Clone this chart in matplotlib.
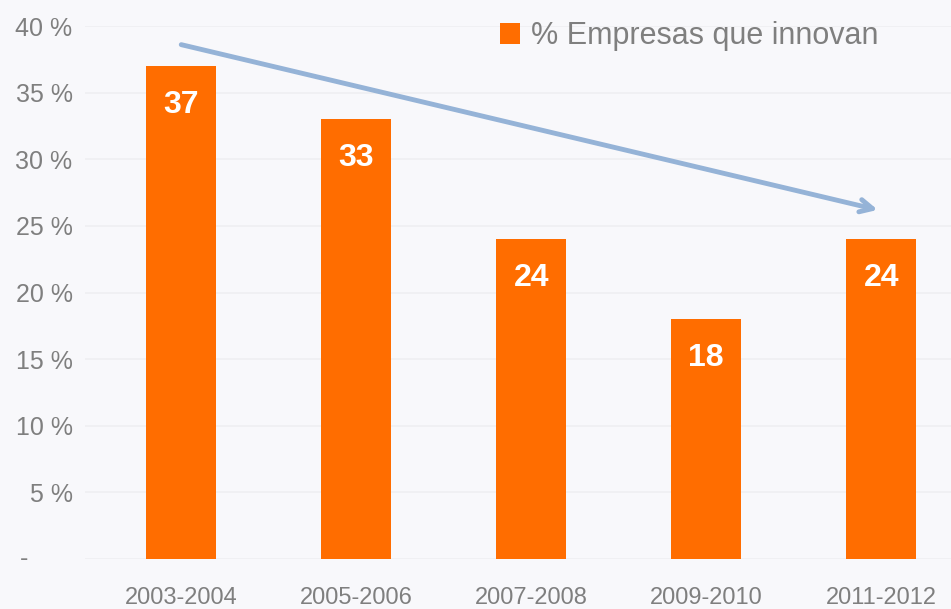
import numpy as np
import matplotlib.pyplot as plt
from matplotlib.transforms import blended_transform_factory

plt.rcParams['font.family'] = ['Liberation Sans', 'DejaVu Sans']

periods = ["2003-2004", "2005-2006", "2007-2008", "2009-2010", "2011-2012"]
innovating = [37, 33, 24, 18, 24]
y_ticks = [0, 5, 10, 15, 20, 25, 30, 35, 40]
legend_label = "% Empresas que innovan"

# trend arrow ends (category index, percent)
arrow_start = (0.0, 38.6)
arrow_end = (3.98, 26.2)

orange = "#ff6d00"
grey = "#7f7f7f"
arrow_blue = "#95b3d7"

fig = plt.figure(figsize=(9.51, 6.09), dpi=100, facecolor="#f8f8fb")
ax = fig.add_axes([85 / 951, 1 - 559 / 609, 875 / 951, 533 / 609])
ax.set_facecolor("none")

x = np.arange(len(periods))
bars = ax.bar(x, innovating, width=0.4, color=orange, label=legend_label, zorder=3)

for xi, v in zip(x, innovating):
    ax.annotate(str(v), (xi, v), xytext=(0, -24), textcoords="offset pixels",
                ha="center", va="top", color="white", fontsize=23,
                fontweight="bold", zorder=4)

ax.annotate("", xy=arrow_end, xytext=arrow_start,
            arrowprops=dict(arrowstyle="->,head_length=0.9,head_width=0.45",
                            color=arrow_blue, lw=3.5, shrinkA=0, shrinkB=0),
            zorder=5)

ax.set_xlim(-0.55, 4.45)
ax.set_ylim(0, 40)
ax.set_xticks(x)
ax.set_xticklabels(periods, fontsize=17, color=grey)
ax.set_yticks(y_ticks)
ax.set_yticklabels(["" if t == 0 else f"{t} %" for t in y_ticks],
                   fontsize=18, color=grey)
ax.tick_params(axis="x", length=0, pad=20)
ax.tick_params(axis="y", length=0, pad=9)
trans = blended_transform_factory(ax.transAxes, ax.transData)
ax.text(-0.07, 0, "-", transform=trans, ha="center", va="center",
        fontsize=18, color=grey)

ax.grid(axis="y", color="#efeff2", lw=1.2, zorder=0)
for s in ax.spines.values():
    s.set_visible(False)

ax.legend(loc="upper left", bbox_to_anchor=(485 / 951, 1 - 6 / 609),
          bbox_transform=fig.transFigure, frameon=False, fontsize=22,
          handlelength=0.65, handleheight=0.65, handletextpad=0.35,
          borderpad=0, labelcolor=grey)

fig.savefig("out.png", dpi=100, facecolor=fig.get_facecolor())
